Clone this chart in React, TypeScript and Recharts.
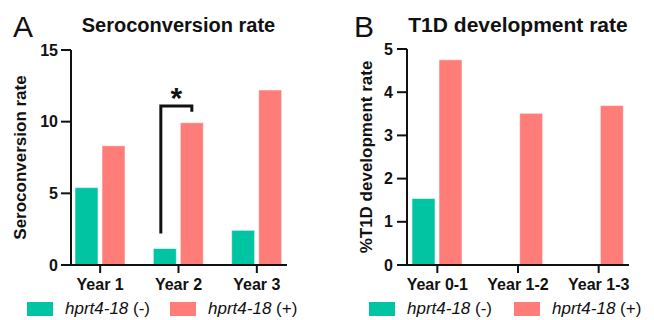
import React from 'react';
import { BarChart, Bar, XAxis, YAxis, Legend, Rectangle } from 'recharts';

const FONT = '"Liberation Sans", Arial, Helvetica, sans-serif';
const INK = '#111111';

const GENE = 'hprt4-18';
const SERIES_KEYS = ['neg', 'pos'];
const GROUP_SUFFIX = ['(-)', '(+)'];
const COLORS = ['#00C4A2', '#FF7D78'];
const BAR_SIZE = 23;
const BAR_GAP = 4;

// Panel A – Seroconversion rate
const seroCategories = ['Year 1', 'Year 2', 'Year 3'];
const seroNeg = [5.4, 1.15, 2.42];
const seroPos = [8.32, 9.93, 12.21];
const seroTicks = [0, 5, 10, 15];
const seroSig = [null, { low: 2.2, high: 11.1, rightLow: 10.7, text: '*' }, null];

// Panel B – T1D development rate
const t1dCategories = ['Year 0-1', 'Year 1-2', 'Year 1-3'];
const t1dNeg = [1.54, 0, 0];
const t1dPos = [4.75, 3.51, 3.69];
const t1dTicks = [0, 1, 2, 3, 4, 5];

const buildRows = (cats: string[], neg: number[], pos: number[], sig?: any[]) =>
  cats.map((c, i) => ({ cat: c, neg: neg[i], pos: pos[i], sig: sig ? sig[i] : null }));

const seroRows = buildRows(seroCategories, seroNeg, seroPos, seroSig);
const t1dRows = buildRows(t1dCategories, t1dNeg, t1dPos);

const BracketBarShape = (props: any) => {
  const { x, y, width, height, payload, value, fill, stroke, strokeWidth } = props;
  const bar = (
    <Rectangle x={x} y={y} width={width} height={height} fill={fill} stroke={stroke} strokeWidth={strokeWidth} />
  );
  const v = Array.isArray(value) ? value[1] - value[0] : value;
  const sig = payload && payload.sig;
  if (!sig || !v || !height) return bar;
  const base = y + height;
  const ppu = height / v;
  const yOf = (val: number) => base - val * ppu;
  const xl = x + width / 2 - 4;
  const xr = x + width * 1.5 + BAR_GAP;
  return (
    <g>
      {bar}
      <path
        d={`M${xl},${yOf(sig.low)} V${yOf(sig.high)} H${xr} V${yOf(sig.rightLow)}`}
        stroke={INK}
        strokeWidth={3}
        fill="none"
      />
      <text
        x={(xl + xr) / 2}
        y={yOf(sig.high) + 2}
        textAnchor="middle"
        fontFamily={FONT}
        fontWeight="bold"
        fontSize={30}
        fill={INK}
      >
        {sig.text}
      </text>
    </g>
  );
};

const makeLegend = (itemGap: number) => (props: any) => {
  const payload: any[] = props.payload || [];
  const ordered = SERIES_KEYS.map((k) => payload.find((p) => p.dataKey === k)).filter(Boolean);
  return (
    <div style={{ display: 'flex', alignItems: 'center', fontFamily: FONT, fontSize: 17, lineHeight: '20px', color: INK, whiteSpace: 'nowrap' }}>
      {ordered.map((entry: any, i: number) => {
        const name: string = String(entry.value);
        const rest = name.startsWith(GENE) ? name.slice(GENE.length) : name;
        return (
          <div key={i} style={{ display: 'flex', alignItems: 'center', marginRight: itemGap }}>
            <div style={{ width: 26, height: 14, background: entry.color, marginRight: 12 }} />
            <span>
              <i>{GENE}</i>
              {rest}
            </span>
          </div>
        );
      })}
    </div>
  );
};

type PanelProps = {
  left: number;
  letter: string;
  letterLeft: number;
  title: string;
  titleCenter: number;
  titleSize: number;
  rows: any[];
  ticks: number[];
  yLabel: string;
  yLabelDx: number;
  yAxisWidth: number;
  axisShift: number;
  marginTop: number;
  marginRight: number;
  padLeft: number;
  padRight: number;
  legendLeft: number;
  legendGap: number;
  bracket?: boolean;
};

const Panel = (p: PanelProps) => {
  const W = 327;
  const H = 320;
  const axisStroke = { stroke: INK, strokeWidth: 2 };
  const shifted = { ...axisStroke, transform: `translate(${p.axisShift} 0)` };
  return (
    <div style={{ position: 'absolute', left: p.left, top: 0, width: W, height: H }}>
      <div
        style={{
          position: 'absolute',
          left: p.letterLeft,
          top: 11.6,
          fontFamily: FONT,
          fontSize: 30,
          lineHeight: '30px',
          color: INK,
          zIndex: 2,
        }}
      >
        {p.letter}
      </div>
      <div
        style={{
          position: 'absolute',
          left: p.titleCenter - 150,
          width: 300,
          textAlign: 'center',
          top: 32 - 0.8465 * p.titleSize,
          fontFamily: FONT,
          fontWeight: 'bold',
          fontSize: p.titleSize,
          lineHeight: `${p.titleSize}px`,
          color: INK,
          zIndex: 2,
        }}
      >
        {p.title}
      </div>
      <BarChart
        width={W}
        height={H}
        data={p.rows}
        margin={{ top: p.marginTop, right: p.marginRight, bottom: 25, left: 0 }}
        barSize={BAR_SIZE}
        barGap={BAR_GAP}
      >
        <XAxis
          dataKey="cat"
          height={30}
          interval={0}
          padding={{ left: p.padLeft, right: p.padRight }}
          tickSize={8}
          tickMargin={6}
          axisLine={axisStroke}
          tickLine={axisStroke}
          tick={{ fontFamily: FONT, fontSize: 16, fontWeight: 'bold', fill: INK }}
        />
        <YAxis
          type="number"
          width={p.yAxisWidth}
          domain={[0, p.ticks[p.ticks.length - 1]]}
          ticks={p.ticks}
          interval={0}
          tickSize={10}
          tickMargin={0}
          axisLine={shifted}
          tickLine={shifted}
          tick={{ fontFamily: FONT, fontSize: 16, fontWeight: 'bold', fill: INK, dx: 6 }}
          label={{
            value: p.yLabel,
            angle: -90,
            position: 'center',
            dx: p.yLabelDx,
            fontFamily: FONT,
            fontSize: 17,
            fontWeight: 'bold',
            fill: INK,
          }}
        />
        <Legend
          layout="horizontal"
          verticalAlign="middle"
          align="center"
          content={makeLegend(p.legendGap)}
          wrapperStyle={{ left: p.legendLeft, top: 299, width: 320, height: 20 }}
        />
        <Bar
          dataKey="neg"
          name={`${GENE} ${GROUP_SUFFIX[0]}`}
          fill={COLORS[0]}
          stroke="rgba(255,255,255,0.55)"
          strokeWidth={1}
          isAnimationActive={false}
          shape={p.bracket ? BracketBarShape : undefined}
        />
        <Bar
          dataKey="pos"
          name={`${GENE} ${GROUP_SUFFIX[1]}`}
          fill={COLORS[1]}
          stroke="rgba(255,255,255,0.55)"
          strokeWidth={1}
          isAnimationActive={false}
        />
      </BarChart>
    </div>
  );
};

export default function App() {
  return (
    <div style={{ position: 'absolute', left: 0, top: 0, width: 654, height: 320, background: '#ffffff', overflow: 'hidden' }}>
      <Panel
        left={0}
        letter="A"
        letterLeft={13}
        title="Seroconversion rate"
        titleCenter={178.5}
        titleSize={20}
        rows={seroRows}
        ticks={seroTicks}
        yLabel="Seroconversion rate"
        yLabelDx={-11}
        yAxisWidth={62}
        axisShift={9}
        marginTop={50}
        marginRight={40}
        padLeft={-1}
        padRight={-9}
        legendLeft={27}
        legendGap={20}
        bracket
      />
      <Panel
        left={327}
        letter="B"
        letterLeft={27}
        title="T1D development rate"
        titleCenter={191}
        titleSize={21}
        rows={t1dRows}
        ticks={t1dTicks}
        yLabel="%T1D development rate"
        yLabelDx={4}
        yAxisWidth={70}
        axisShift={10}
        marginTop={49}
        marginRight={25}
        padLeft={0}
        padRight={-10}
        legendLeft={42}
        legendGap={22}
      />
    </div>
  );
}
